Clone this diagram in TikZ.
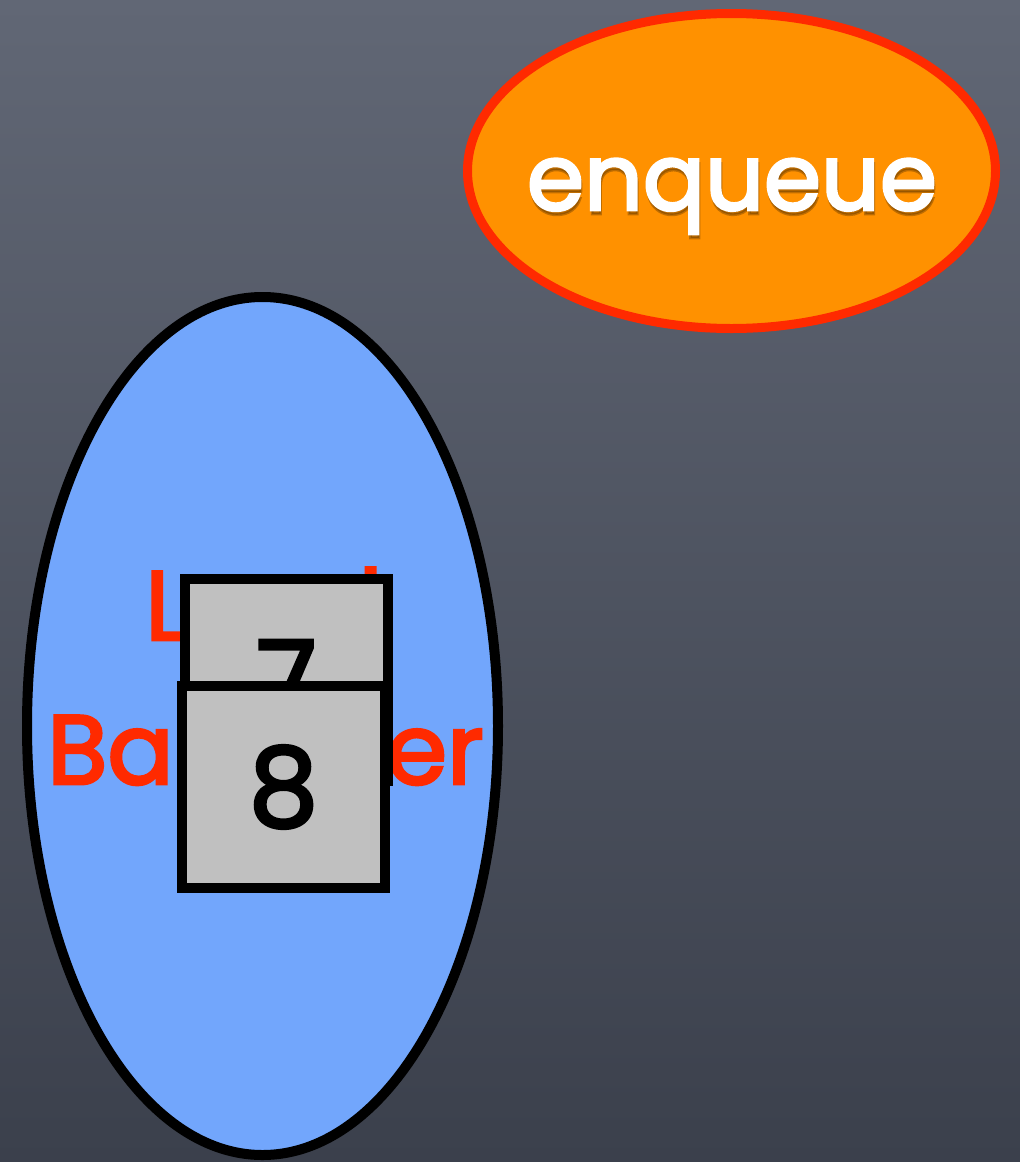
\documentclass[tikz,border=0pt]{standalone}
\usepackage{fontspec}
\setmainfont{Poppins}[FakeBold=3]
\usetikzlibrary{shapes.geometric}
\definecolor{bgtop}{HTML}{616775}
\definecolor{bgbot}{HTML}{3B404C}
\definecolor{orangefill}{HTML}{FF9100}
\definecolor{redline}{HTML}{FF2A00}
\definecolor{bluefill}{HTML}{72A6FC}
\definecolor{boxgray}{HTML}{C0C0C0}
\tikzset{
  enqfont/.style={font=\fontsize{92}{100}\selectfont},
  redtext/.style={text=redline, inner sep=0pt, outer sep=0pt, font=\fontsize{98}{110}\selectfont},
  valbox/.style={draw=black, line width=10pt, fill=boxgray, minimum width=203pt,
    minimum height=202pt, inner sep=0pt, outer sep=0pt,
    font=\fontsize{110}{120}\selectfont, text=black},
}
\begin{document}
\begin{tikzpicture}[x=1pt,y=-1pt]
\path[use as bounding box, top color=bgtop, bottom color=bgbot] (0,0) rectangle (1020,1162);
% enqueue ellipse
\node[ellipse, draw=redline, line width=9pt, fill=orangefill, minimum width=528pt,
  minimum height=315pt, inner sep=0pt] (enq) at (731.5,171) {};
\node[anchor=base, enqfont, text=black!70!orangefill, opacity=0.35] (enqshadow) at (733,214) {enqueue};
\node[anchor=base, enqfont, text=white] (enqtext) at (732,210) {enqueue};
% load balancer ellipse
\node[ellipse, draw=black, line width=10pt, fill=bluefill, minimum width=471pt,
  minimum height=858pt, inner sep=0pt] (lb) at (262.5,726) {};
\node[anchor=base, redtext] (load) at (264,640) {Load};
\node[anchor=base, redtext] (balancer) at (265.5,784) {Balancer};
% boxes
\node[valbox] (b7) at (286.5,680) {7};
\node[valbox] (b8) at (283.5,787) {8};
\end{tikzpicture}
\end{document}
